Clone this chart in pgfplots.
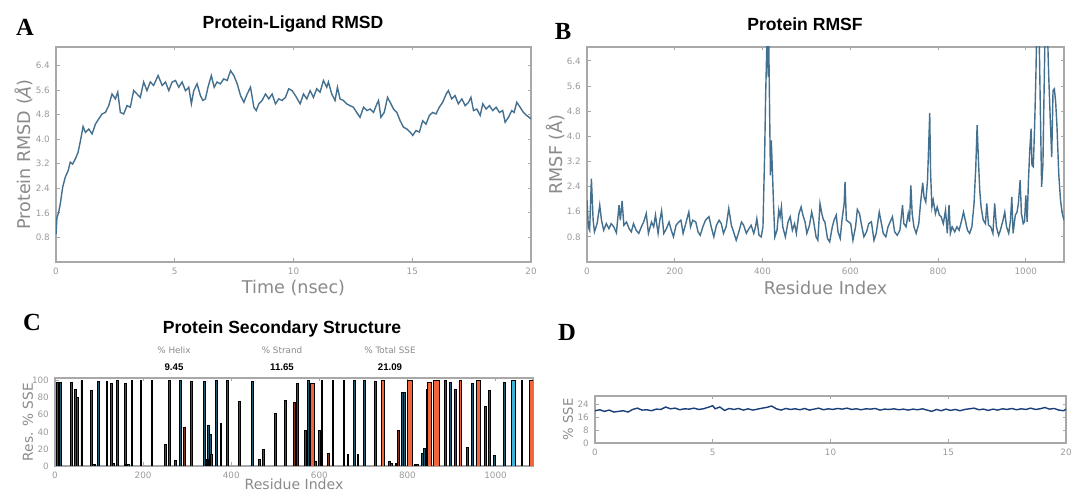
\documentclass[border=0pt]{standalone}
\usepackage{fontspec}
\setmainfont{DejaVu Sans}
\newfontfamily\titlefont{Liberation Sans}
\newfontfamily\letterfont{Liberation Serif}
\usepackage{pgfplots}
\pgfplotsset{compat=1.18}
\definecolor{cFrame}{HTML}{A8A8A8}
\definecolor{cTick}{HTML}{9A9A9A}
\definecolor{cLabel}{HTML}{8A8A8A}
\definecolor{cLine}{HTML}{44708F}
\definecolor{cNavy}{HTML}{1B3F7A}
\definecolor{cHelix}{HTML}{F2643C}
\definecolor{cHelixD}{HTML}{8A3420}
\definecolor{cStrand}{HTML}{2F8FB0}
\definecolor{cStrandD}{HTML}{1E5A6E}
\definecolor{cStrandL}{HTML}{3CB4DC}

\pgfplotsset{
  panel/.style={
    scale only axis, anchor=south west,
    axis line style={cFrame, line width=0.7pt},
    tick style={cFrame, line width=0.5pt},
    major tick length=0.07cm,
    tick align=inside,
    ticklabel style={text=cTick, font=\fontsize{5}{6}\selectfont},
    /pgf/number format/assume math mode=true,
    /pgf/number format/1000 sep={},
    label style={text=cLabel},
  },
  onedec/.style={yticklabel style={/pgf/number format/.cd, fixed, fixed zerofill, precision=1}},
  spike/.style={ybar, bar shift=0pt, draw=black, line width=0.55pt},
}

\begin{document}
\begin{tikzpicture}
\path[use as bounding box] (0,0) rectangle (21.56cm,9.88cm);

% ---- A: protein-ligand RMSD
\begin{axis}[panel, onedec, at={(1.12cm,4.64cm)}, width=9.50cm, height=4.30cm,
  xmin=0, xmax=20, ymin=0, ymax=7.0,
  xtick={0,5,10,15,20}, ytick={0.8,1.6,...,6.4},
  xlabel={Time (nsec)}, ylabel={Protein RMSD (\textit{Å})},
  xlabel style={at={(axis description cs:0.5,0)}, anchor=center, yshift=-0.52cm, font=\fontsize{10}{12}\selectfont},
  ylabel style={at={(axis description cs:-0.0674,0.5)}, anchor=center, font=\fontsize{10}{12}\selectfont},
]
\addplot[cLine, line width=0.8pt] coordinates {
(0,0.9) (0.04,1.45) (0.11,1.61) (0.18,1.89) (0.28,2.43) (0.39,2.76) (0.51,2.97) (0.60,3.25) (0.70,3.19)
(0.81,3.35) (0.93,3.57) (1.03,3.95) (1.14,4.41) (1.24,4.22) (1.38,4.33) (1.52,4.17) (1.66,4.49)
(1.80,4.66) (1.94,4.82) (2.08,4.87) (2.22,5.09) (2.36,5.47) (2.50,5.31) (2.60,5.53) (2.71,4.87)
(2.85,4.82) (2.99,5.09) (3.13,5.04) (3.27,5.58) (3.41,5.47) (3.55,5.36) (3.69,5.86) (3.83,5.58)
(3.97,5.86) (4.11,5.75) (4.30,6.07) (4.47,5.75) (4.61,5.86) (4.75,5.58) (4.89,5.86) (5.03,5.91)
(5.17,5.69) (5.31,5.86) (5.45,5.58) (5.59,5.69) (5.70,5.15) (5.80,5.58) (5.94,5.80) (6.08,5.42)
(6.18,5.26) (6.29,5.31) (6.40,5.69) (6.54,6.07) (6.66,5.69) (6.78,5.86) (6.92,5.80) (7.06,5.96)
(7.21,5.91) (7.35,6.23) (7.49,6.07) (7.63,5.80) (7.77,5.42) (7.91,5.20) (8.05,5.47) (8.19,5.69)
(8.33,5.04) (8.43,4.93) (8.54,5.15) (8.68,5.26) (8.82,5.47) (8.96,5.31) (9.10,5.47) (9.24,5.15)
(9.38,5.31) (9.52,5.26) (9.66,5.36) (9.80,5.64) (9.94,5.58) (10.08,5.42) (10.28,5.15) (10.42,5.47)
(10.56,5.31) (10.70,5.58) (10.84,5.36) (10.98,5.64) (11.12,5.53) (11.26,5.91) (11.40,5.69)
(11.47,5.86) (11.61,5.47) (11.75,5.26) (11.85,5.69) (11.96,5.31) (12.10,5.26) (12.24,5.15)
(12.38,5.09) (12.52,5.04) (12.66,4.87) (12.80,4.71) (12.95,5.04) (13.09,4.93) (13.23,4.98)
(13.37,4.87) (13.48,5.09) (13.58,5.26) (13.68,4.71) (13.82,4.87) (13.96,5.36) (14.07,5.20)
(14.21,4.98) (14.35,4.87) (14.49,4.60) (14.63,4.39) (14.77,4.33) (14.91,4.23) (15.02,4.12)
(15.16,4.28) (15.30,4.23) (15.44,4.60) (15.58,4.49) (15.72,4.77) (15.86,4.87) (16.00,4.82)
(16.14,5.04) (16.28,5.20) (16.43,5.47) (16.52,5.58) (16.66,5.31) (16.80,5.42) (16.94,5.15)
(17.09,5.31) (17.23,5.09) (17.37,5.20) (17.47,5.36) (17.58,4.93) (17.72,4.98) (17.86,4.77)
(17.97,5.15) (18.11,4.98) (18.25,5.09) (18.39,4.93) (18.53,5.04) (18.67,4.87) (18.81,4.93)
(18.91,4.55) (19.05,4.71) (19.19,4.93) (19.29,4.87) (19.40,5.20) (19.54,5.04) (19.68,4.87)
(19.82,4.77) (20,4.66)
};
\end{axis}

% ---- B: protein RMSF
\begin{axis}[panel, onedec, at={(11.74cm,4.64cm)}, width=9.54cm, height=4.30cm,
  xmin=0, xmax=1087, ymin=0, ymax=6.84,
  xtick={0,200,...,1000}, ytick={0.8,1.6,...,6.4},
  xlabel={Residue Index}, ylabel={RMSF (Å)},
  xlabel style={at={(axis description cs:0.5,0)}, anchor=center, yshift=-0.52cm, font=\fontsize{10}{12}\selectfont},
  ylabel style={at={(axis description cs:-0.065,0.5)}, anchor=center, font=\fontsize{10}{12}\selectfont},
]
\addplot[cLine, line width=0.8pt] coordinates {
(0,1.97) (3,1.12) (6,1.01) (10,2.65) (14,1.33) (17,0.96) (23,1.22) (29,1.81) (33,1.33) (38,1.01)
(44,1.22) (50,1.06) (55,1.22) (61,1.12) (67,0.93) (73,1.81) (76,1.33) (80,1.94) (84,1.17) (90,1.27)
(96,1.06) (101,0.96) (106,1.22) (112,1.01) (118,0.91) (124,1.12) (129,1.27) (135,1.54) (140,0.91)
(147,1.27) (152,1.12) (156,1.49) (162,0.91) (166,1.33) (170,1.63) (175,0.91) (181,1.06) (187,1.27)
(192,1.01) (197,0.80) (203,1.17) (209,1.27) (214,1.33) (219,0.91) (225,1.22) (232,1.59) (236,1.12)
(241,1.33) (248,1.27) (253,0.96) (258,0.85) (264,1.12) (270,1.33) (278,1.44) (283,1.12) (289,0.80)
(295,1.17) (301,1.33) (306,1.22) (311,0.91) (317,1.12) (323,1.70) (329,1.17) (334,0.96) (340,0.69)
(346,0.96) (352,1.27) (357,1.17) (363,0.91) (369,1.06) (374,1.17) (380,0.91) (384,1.12) (387,1.38)
(392,0.85) (397,0.80) (401,1.12) (405,3.56) (407,5.25) (409,6.42) (411,7.6) (413,5.89) (414,7.2)
(417,3.87) (418,2.76) (420,3.87) (423,2.70) (425,1.86) (428,0.80) (433,1.01) (437,1.65) (440,1.44)
(443,1.75) (446,1.12) (452,0.80) (458,1.27) (463,1.44) (468,1.01) (473,1.22) (477,0.91) (483,1.54)
(488,1.75) (492,1.49) (497,1.27) (501,0.91) (507,1.17) (512,1.59) (516,1.33) (522,0.80) (526,0.69)
(531,1.86) (535,1.54) (539,1.33) (542,1.28) (548,0.75) (553,0.64) (559,1.12) (563,1.33) (568,1.49)
(572,0.96) (577,0.75) (581,1.33) (586,1.86) (588,2.55) (591,1.33) (596,1.28) (601,1.22) (606,0.69)
(612,1.12) (616,1.67) (621,1.54) (625,1.22) (631,0.80) (637,0.96) (642,1.22) (648,1.28) (654,0.69)
(659,0.91) (666,1.59) (671,1.22) (675,0.91) (681,0.80) (686,1.12) (691,1.28) (696,1.44) (701,0.96)
(707,0.85) (713,1.01) (719,1.81) (722,1.22) (727,1.12) (732,1.54) (735,1.28) (738,2.44) (741,1.54)
(745,1.12) (750,0.91) (756,1.22) (760,1.86) (765,2.52) (768,2.07) (772,1.91) (776,2.60) (779,3.87)
(781,4.74) (783,2.81) (786,1.75) (789,1.97) (794,1.54) (798,1.75) (803,1.49) (807,1.44) (812,1.22)
(817,1.65) (821,0.91) (825,1.81) (828,0.91) (832,1.12) (838,0.96) (843,1.12) (848,1.01) (853,1.28)
(858,1.59) (862,1.33) (867,1.01) (872,0.91) (877,1.12) (882,1.86) (886,3.03) (889,4.35) (892,3.24)
(895,2.28) (898,1.75) (903,1.33) (908,1.22) (911,1.86) (915,1.17) (920,1.12) (925,0.91) (929,1.86)
(933,1.12) (938,0.85) (942,1.01) (948,1.33) (952,1.59) (956,1.12) (961,0.91) (965,1.33) (968,2.07)
(971,0.91) (976,1.49) (980,1.59) (983,1.86) (987,2.60) (990,1.54) (994,1.22) (997,1.28) (1000,2.12)
(1003,1.28) (1006,2.60) (1009,3.56) (1012,4.24) (1014,3.08) (1017,3.03) (1020,4.30) (1023,5.99)
(1025,7.5) (1027,7.5) (1030,7.5) (1033,4.93) (1036,2.39) (1039,3.13) (1041,4.93) (1044,7.5)
(1049,7.5) (1052,5.99) (1056,4.40) (1059,3.34) (1062,5.46) (1065,5.51) (1068,5.09) (1071,4.30)
(1075,2.81) (1079,1.97) (1083,1.54) (1087,1.33)
};
\end{axis}

% ---- C: secondary structure per residue
\begin{axis}[panel, at={(1.10cm,0.56cm)}, width=9.56cm, height=1.76cm,
  xmin=0, xmax=1085, ymin=0, ymax=103,
  xtick={0,200,...,1000}, ytick={0,20,...,100},
  xlabel={Residue Index}, ylabel={Res. \% SSE},
  xlabel style={at={(axis description cs:0.5,0)}, anchor=center, yshift=-0.36cm, font=\fontsize{8}{10}\selectfont},
  ylabel style={at={(axis description cs:-0.0565,0.5)}, anchor=center, font=\fontsize{7.8}{9}\selectfont},
]
% strand, narrow
\addplot[spike, bar width=4, fill=cStrandD] coordinates {
(6,98) (13,98) (38,98) (47,89) (61,100) (83,88) (88,2) (91,2) (98,99) (118,99) (128,96) (133,3)
(142,100) (160,96) (163,2) (166,2) (175,100) (195,100) (220,100) (260,100) (285,100) (310,99)
(339,99) (346,8) (349,48) (353,37) (367,100) (377,50) (392,100) (448,99) (473,19) (500,62) (523,77)
(550,96) (569,42) (575,100) (600,42) (606,100) (631,100) (656,100) (665,13) (679,100) (688,13)
(703,100) (728,99) (764,3) (774,3) (788,86) (794,86) (817,2) (822,2) (835,15) (839,21) (845,89)
(887,100) (898,98) (909,89) (936,22) (948,96) (978,70) (998,12) (1021,98) (1060,100)
};
% strand, wide
\addplot[spike, bar width=8, fill=cStrandL] coordinates {(1041,100)};
% helix, narrow
\addplot[spike, bar width=4, fill=cHelixD] coordinates {
(51,80) (251,25) (274,7) (294,45) (356,13) (418,75) (464,8) (543,74) (592,5) (621,15)
(759,5) (780,42) (986,88)
};
\addplot[spike, bar width=6, fill=cHelix] coordinates {(745,100) (920,100)};
% helix, wide
\addplot[spike, bar width=10, fill=cHelix] coordinates {
(585,96) (806,100) (850,98) (961,100) (1081,100)
};
\addplot[spike, bar width=14, fill=cHelix] coordinates {(866,100)};
\end{axis}

% ---- D: % SSE over time
\begin{axis}[panel, at={(11.90cm,1.02cm)}, width=9.42cm, height=0.94cm,
  xmin=0, xmax=20, ymin=0, ymax=29,
  xtick={0,5,10,15,20}, ytick={0,8,16,24},
  ylabel={\% SSE},
  ylabel style={at={(axis description cs:-0.0573,0.5)}, anchor=center, font=\fontsize{7.5}{9}\selectfont},
]
\addplot[cNavy, line width=0.8pt] coordinates {
(0,19.9) (0.2,20.5) (0.4,19.5) (0.6,20.3) (0.8,19.1) (1.0,19.5) (1.2,19.9) (1.4,19.1) (1.6,20.7)
(1.8,21.5) (2.0,20.3) (2.2,20.5) (2.4,19.9) (2.6,20.9) (2.8,20.7) (3.0,22.2) (3.2,21.1) (3.4,21.5)
(3.6,20.5) (3.8,21.1) (4.0,20.9) (4.2,21.5) (4.4,20.7) (4.6,21.1) (4.8,22.0) (5.0,23.0) (5.1,21.1)
(5.3,22.2) (5.5,20.1) (5.7,21.3) (5.9,20.7) (6.1,21.3) (6.3,20.3) (6.5,21.1) (6.7,20.3) (6.9,20.9)
(7.1,21.5) (7.3,22.0) (7.5,22.8) (7.7,21.1) (7.9,20.3) (8.1,21.3) (8.3,20.7) (8.5,21.1) (8.7,20.5)
(8.9,21.3) (9.1,20.3) (9.3,20.9) (9.5,21.5) (9.7,20.5) (9.9,21.1) (10.1,20.7) (10.3,21.3)
(10.5,20.9) (10.7,21.5) (10.9,20.7) (11.1,21.1) (11.3,20.5) (11.5,21.1) (11.7,20.9) (11.9,21.3)
(12.1,20.3) (12.3,20.9) (12.5,20.7) (12.7,21.1) (12.9,20.5) (13.1,20.9) (13.3,20.3) (13.5,20.9)
(13.7,20.5) (13.9,21.1) (14.1,20.3) (14.3,19.5) (14.5,20.7) (14.7,19.9) (14.9,20.9) (15.1,20.1)
(15.3,20.7) (15.5,19.9) (15.7,20.7) (15.9,21.1) (16.1,21.5) (16.3,20.5) (16.5,20.9) (16.7,20.1)
(16.9,20.9) (17.1,20.3) (17.3,21.1) (17.5,20.7) (17.7,21.3) (17.9,20.5) (18.1,21.1) (18.3,20.7)
(18.5,21.5) (18.7,20.7) (18.9,21.1) (19.1,21.9) (19.3,20.9) (19.5,21.3) (19.7,20.3) (19.9,19.9)
(20,20.9)
};
\end{axis}

% ---- titles and panel letters
\node[font=\letterfont\bfseries\fontsize{14}{16}\selectfont] at (0.50cm,9.34cm) {A};
\node[font=\letterfont\bfseries\fontsize{14}{16}\selectfont] at (11.26cm,9.26cm) {B};
\node[font=\letterfont\bfseries\fontsize{14}{16}\selectfont] at (0.64cm,3.44cm) {C};
\node[font=\letterfont\bfseries\fontsize{14}{16}\selectfont] at (11.34cm,3.24cm) {D};
\node[font=\titlefont\bfseries\fontsize{10}{12}\selectfont] at (5.86cm,9.40cm) {Protein-Ligand RMSD};
\node[font=\titlefont\bfseries\fontsize{10}{12}\selectfont] at (16.10cm,9.40cm) {Protein RMSF};
\node[font=\titlefont\bfseries\fontsize{10}{12}\selectfont] at (5.64cm,3.30cm) {Protein Secondary Structure};
\foreach \xx/\name/\val in {3.48/\% Helix/9.45, 5.64/\% Strand/11.65, 7.80/\% Total SSE/21.09} {
  \node[text=cLabel, font=\fontsize{5}{6}\selectfont] at (\xx cm,2.88cm) {\name};
  \node[font=\titlefont\bfseries\fontsize{5.5}{6}\selectfont] at (\xx cm,2.54cm) {\val};
}
\end{tikzpicture}
\end{document}
